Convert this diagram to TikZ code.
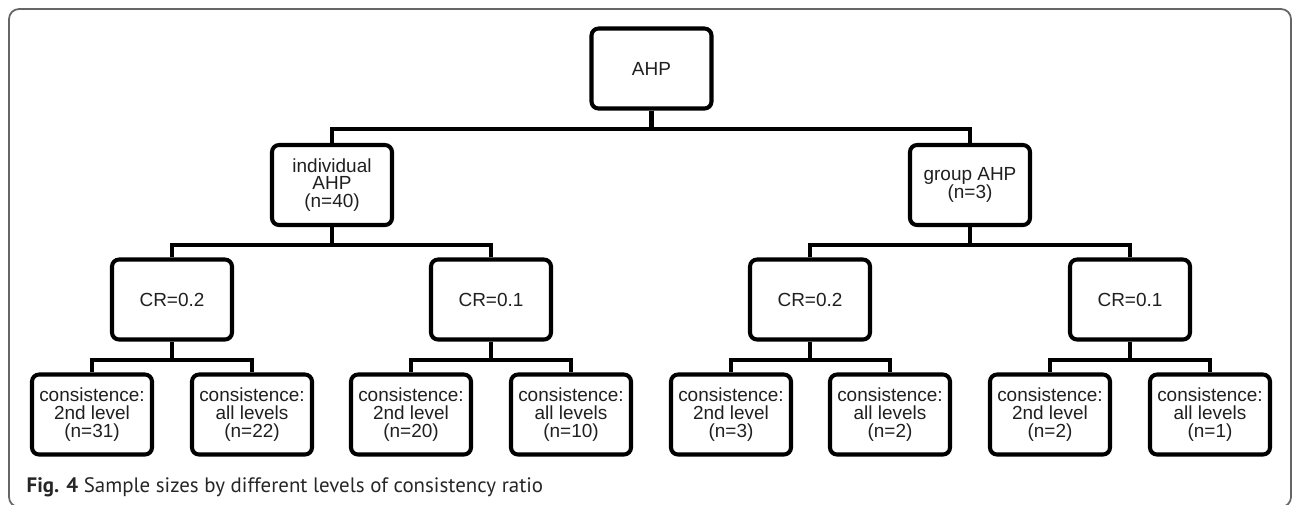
\documentclass[tikz,border=0pt]{standalone}
\usepackage{fontspec}
\setmainfont{Liberation Sans}
\newfontfamily\captionfont{PT Sans}
\usepackage{tikz}

\begin{document}
\begin{tikzpicture}[y=-1cm]
		\useasboundingbox (0,0) rectangle (12.95,5.04);
		\draw[black!60,line width=0.5pt,rounded corners=0.1cm] (0.09,0.09) rectangle (12.91,5.07);
		\begin{scope}[every node/.style={rectangle,rounded corners=2pt,line width=1.15pt,draw,
		              minimum width=1.2cm,minimum height=0.8cm,inner sep=0pt,align=center,
		              text=black!88,font=\fontsize{5.4}{5.1}\selectfont}]
		    \node (ahp) at (6.515,0.685) {AHP};
		    \node (ind) at (3.32,1.85) {individual\\AHP\\(n=40)};
		    \node (grp) at (9.70,1.85) {group AHP\\(n=3)};
		    \node (ind-2) at (1.72,2.995) {CR=0.2};
		    \node (ind-1) at (4.91,2.995) {CR=0.1};
		    \node (grp-2) at (8.10,2.995) {CR=0.2};
		    \node (grp-1) at (11.30,2.995) {CR=0.1};
		    \node (ind-2-a) at (0.92,4.145) {consistence:\\2nd level\\(n=31)};
		    \node (ind-2-b) at (2.52,4.145) {consistence:\\all levels\\(n=22)};
		    \node (ind-1-a) at (4.11,4.145) {consistence:\\2nd level\\(n=20)};
		    \node (ind-1-b) at (5.71,4.145) {consistence:\\all levels\\(n=10)};
		    \node (grp-2-a) at (7.31,4.145) {consistence:\\2nd level\\(n=3)};
		    \node (grp-2-b) at (8.90,4.145) {consistence:\\all levels\\(n=2)};
		    \node (grp-1-a) at (10.50,4.145) {consistence:\\2nd level\\(n=2)};
		    \node (grp-1-b) at (12.10,4.145) {consistence:\\all levels\\(n=1)};
		\end{scope}
		
		\begin{scope}[every edge/.style={draw=black,line width=1.15pt,
		              to path={(\tikztostart) -- ++(0,0.18) -| (\tikztotarget)}}]
		    \path (ahp.south) edge (ind.north);
		    \path (ahp.south) edge (grp.north);
		    \path (ind.south) edge (ind-2.north);
		    \path (ind.south) edge (ind-1.north);
		    \path (grp.south) edge (grp-2.north);
		    \path (grp.south) edge (grp-1.north);
		    \path (ind-2.south) edge (ind-2-a.north);
		    \path (ind-2.south) edge (ind-2-b.north);
		    \path (ind-1.south) edge (ind-1-a.north);
		    \path (ind-1.south) edge (ind-1-b.north);
		    \path (grp-2.south) edge (grp-2-a.north);
		    \path (grp-2.south) edge (grp-2-b.north);
		    \path (grp-1.south) edge (grp-1-a.north);
		    \path (grp-1.south) edge (grp-1-b.north);
		\end{scope}
		
		\node[anchor=base west,inner sep=0pt,text=black!85,font=\captionfont\fontsize{5.95}{6}\selectfont]
		    (caption) at (0.26,4.92) {\textbf{Fig. 4} Sample sizes by different levels of consistency ratio};
\end{tikzpicture}
\end{document}
